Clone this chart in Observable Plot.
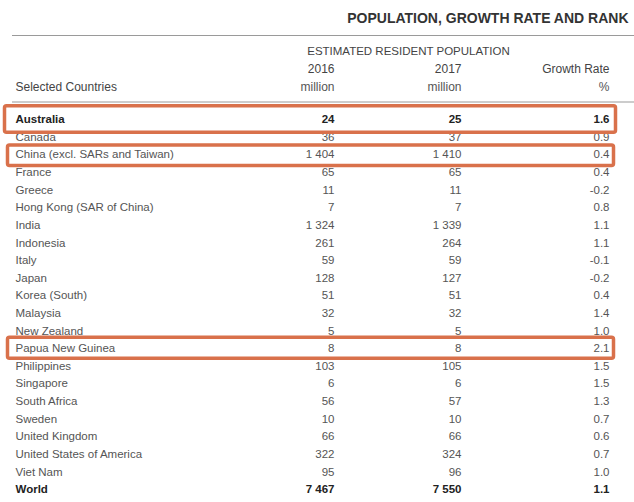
<!DOCTYPE html>
<html>
<head>
<meta charset="utf-8">
<script src="https://cdn.jsdelivr.net/npm/d3@7"></script>
<script src="https://cdn.jsdelivr.net/npm/@observablehq/plot@0.6"></script>
<style>
  html, body { margin: 0; padding: 0; background: #fff; }
  svg { display: block; }
</style>
</head>
<body>
<div id="chart"></div>
<script>
// ---- data ----
const countries = ["Australia", "Canada", "China (excl. SARs and Taiwan)", "France", "Greece",
  "Hong Kong (SAR of China)", "India", "Indonesia", "Italy", "Japan", "Korea (South)", "Malaysia",
  "New Zealand", "Papua New Guinea", "Philippines", "Singapore", "South Africa", "Sweden",
  "United Kingdom", "United States of America", "Viet Nam", "World"];
const pop2016 = [24, 36, 1404, 65, 11, 7, 1324, 261, 59, 128, 51, 32, 5, 8, 103, 6, 56, 10, 66, 322, 95, 7467];
const pop2017 = [25, 37, 1410, 65, 11, 7, 1339, 264, 59, 127, 51, 32, 5, 8, 105, 6, 57, 10, 66, 324, 96, 7550];
const growth = [1.6, 0.9, 0.4, 0.4, -0.2, 0.8, 1.1, 1.1, -0.1, -0.2, 0.4, 1.4, 1.0, 2.1, 1.5, 1.5, 1.3, 0.7, 0.6, 0.7, 1.0, 1.1];
const boldRows = ["Australia", "World"];
const highlightMain = ["Australia"];
const highlightChina = ["China (excl. SARs and Taiwan)"];
const highlightPNG = ["Papua New Guinea"];
const title = "POPULATION, GROWTH RATE AND RANK";
const groupHeader = "ESTIMATED RESIDENT POPULATION";
const colHeaders = ["2016", "2017", "Growth Rate"];
const colUnits = ["million", "million", "%"];
const rowHeader = "Selected Countries";

// ---- layout ----
const L = {
  width: 634, height: 502,
  labelX: 15, col2016: 334, col2017: 461, colGrowth: 609,
  groupX: 408, ruleX1: 12, ruleX2: 634,
  rowsTop: 110.2, rowsBottom: 497.8,
  font: "Liberation Sans, Arial, Helvetica, sans-serif",
  text: "#555", dark: "#222", orange: "#d9714b", line: "#9a9a9a"
};

const rows = countries.map((c, i) => ({country: c, p16: pop2016[i], p17: pop2017[i], g: growth[i], bold: boldRows.includes(c)}));
const loc = d3.formatLocale({decimal: ".", thousands: " ", grouping: [3], currency: ["", ""], minus: "-"});
const fInt = loc.format(",d");
const fPct = loc.format(".1f");
const normal = rows.filter(d => !d.bold);
const bold = rows.filter(d => d.bold);
const colX = [L.col2016, L.col2017, L.colGrowth];
const headers = colHeaders.map((h, i) => ({h, u: colUnits[i], x: colX[i]}));

const textCols = (data, weight, fill) => [
  Plot.text(data, {x: L.labelX, y: "country", text: "country", textAnchor: "start", fontWeight: weight, fill, fontSize: 11.5}),
  Plot.text(data, {x: L.col2016, y: "country", text: d => fInt(d.p16), textAnchor: "end", fontWeight: weight, fill, fontSize: 11.5}),
  Plot.text(data, {x: L.col2017, y: "country", text: d => fInt(d.p17), textAnchor: "end", fontWeight: weight, fill, fontSize: 11.5}),
  Plot.text(data, {x: L.colGrowth, y: "country", text: d => fPct(d.g), textAnchor: "end", fontWeight: weight, fill, fontSize: 11.5})
];

const chart = Plot.plot({
  width: L.width, height: L.height,
  margin: 0,
  style: {fontFamily: L.font, fontSize: "12px", background: "#fff"},
  x: {type: "linear", domain: [0, L.width], range: [0, L.width], axis: null},
  y: {type: "band", domain: countries, range: [L.rowsTop, L.rowsBottom], padding: 0, round: false, axis: null},
  marks: [
    // header
    Plot.text([title], {x: 628, frameAnchor: "top", dy: 13, text: d => d, textAnchor: "end", fontSize: 14, fontWeight: "bold", fill: "#333"}),
    Plot.ruleY([countries[0]], {x1: L.ruleX1, x2: L.ruleX2, dy: -84, stroke: L.line, strokeWidth: 1.2}),
    Plot.text([groupHeader], {x: L.groupX, frameAnchor: "top", dy: 46, text: d => d, fill: "#444", fontSize: 11.5}),
    Plot.text(headers, {x: "x", frameAnchor: "top", dy: 64, text: "h", textAnchor: "end", fill: "#444"}),
    Plot.text(headers, {x: "x", frameAnchor: "top", dy: 82, text: "u", textAnchor: "end", fill: "#555"}),
    Plot.text([rowHeader], {x: L.labelX, frameAnchor: "top", dy: 82, text: d => d, textAnchor: "start", fill: "#444"}),
    Plot.ruleY([countries[0]], {x1: L.ruleX1, x2: L.ruleX2, dy: -17.5, stroke: L.line, strokeWidth: 1.2}),
    // rows
    ...textCols(normal, "normal", L.text),
    ...textCols(bold, "bold", L.dark),
    // highlight boxes
    Plot.barX(highlightMain, {y: d => d, x1: 4.5, x2: 615.5, insetTop: -4.5, insetBottom: -4.5, fill: "none", stroke: L.orange, strokeWidth: 3.5, rx: 2}),
    Plot.barX(highlightChina, {y: d => d, x1: 7.5, x2: 613.5, insetTop: -0.5, insetBottom: -2.5, fill: "none", stroke: L.orange, strokeWidth: 3.5, rx: 2}),
    Plot.barX(highlightPNG, {y: d => d, x1: 7.5, x2: 613.5, insetTop: -2, insetBottom: -1.5, fill: "none", stroke: L.orange, strokeWidth: 3.5, rx: 2})
  ]
});
document.getElementById("chart").appendChild(chart);
</script>
</body>
</html>
